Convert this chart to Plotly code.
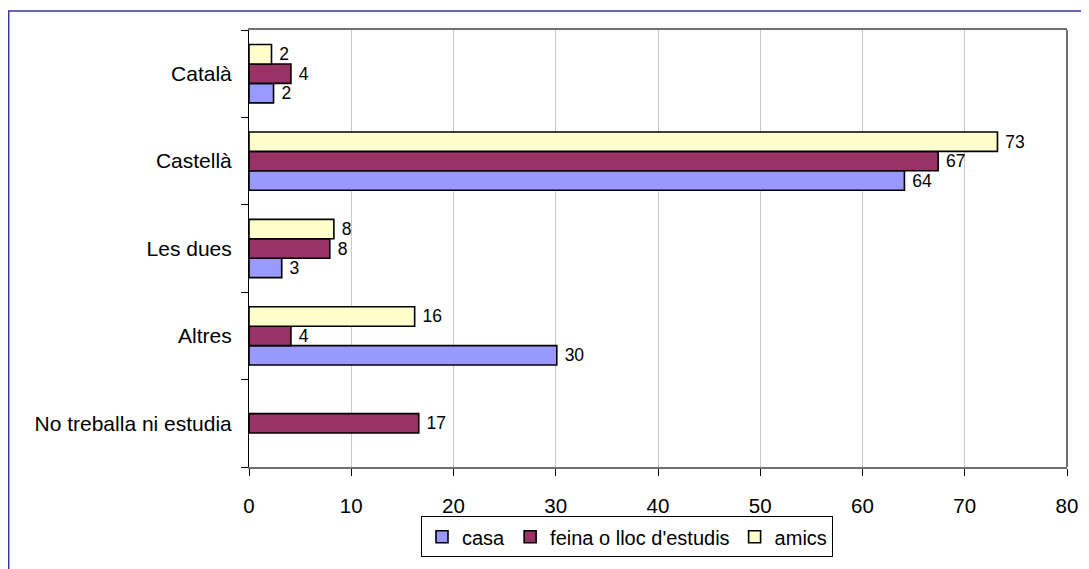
import plotly.graph_objects as go

categories = ["Català", "Castellà", "Les dues", "Altres", "No treballa ni estudia"]
casa = [2.4, 64.1, 3.2, 30.1, None]
feina = [4.1, 67.4, 7.9, 4.1, 16.6]
amics = [2.2, 73.2, 8.3, 16.2, None]
series_names = ["casa", "feina o lloc d'estudis", "amics"]
colors = ["#9999FF", "#993366", "#FFFFCC"]
x_ticks = [0, 10, 20, 30, 40, 50, 60, 70, 80]

FONT = "Arial, Liberation Sans, sans-serif"

fig = go.Figure()
for name, vals, col in zip(series_names, [casa, feina, amics], colors):
    fig.add_trace(go.Bar(
        y=categories, x=vals, name=name, orientation="h",
        marker=dict(color=col, line=dict(color="black", width=1.6)),
        text=[None if v is None else f" {round(v):d}" for v in vals],
        textposition="outside", constraintext="none", cliponaxis=False,
        textfont=dict(family=FONT, size=17.5, color="black"),
        hoverinfo="skip",
    ))

# page has an 8px body margin; figure coordinates are page coordinates minus 8
OFF = 8
W, H = 1089 - OFF, 569 - OFF
L, R, T, B = 249 - OFF, 22, 30 - OFF, 95
pw, ph = W - L - R, H - T - B

def px(xp):
    return (xp - OFF - L) / pw

def py(yp):
    return (H - B - (yp - OFF)) / ph

fig.update_layout(
    width=W, height=H,
    margin=dict(l=L, r=R, t=T, b=B),
    paper_bgcolor="white", plot_bgcolor="white",
    barmode="group", bargap=1/3, bargroupgap=0,
    font=dict(family=FONT, size=20, color="black"),
    showlegend=True,
    legend=dict(
        orientation="h", x=px(421), y=py(524), xanchor="left", yanchor="top",
        bordercolor="black", borderwidth=1, bgcolor="white",
        font=dict(family=FONT, size=20, color="black"),
        itemwidth=30, tracegroupgap=0,
    ),
    xaxis=dict(
        range=[0, 80], tickvals=x_ticks, ticktext=[str(v) for v in x_ticks],
        showgrid=True, gridcolor="#C8C8C8", gridwidth=1,
        showline=True, linecolor="#707070", linewidth=1.5, mirror=True,
        ticks="outside", ticklen=7, tickcolor="black", tickwidth=1,
        ticklabelstandoff=13, zeroline=False,
        tickfont=dict(family=FONT, size=20.5, color="black"),
    ),
    yaxis=dict(
        categoryorder="array", categoryarray=categories[::-1],
        showgrid=False, showline=True, linecolor="black", linewidth=1,
        ticks="outside", ticklen=7, tickcolor="black", tickson="boundaries",
        ticklabelstandoff=12,
        tickfont=dict(family=FONT, size=21, color="black"),
    ),
    shapes=[
        dict(type="line", xref="paper", yref="paper", x0=1, x1=1, y0=0, y1=1,
             line=dict(color="#707070", width=2)),
        dict(type="rect", xref="paper", yref="paper",
             x0=px(8.7), x1=px(1100), y0=py(600), y1=py(10.7),
             line=dict(color="#3535A8", width=1.5), fillcolor="rgba(0,0,0,0)"),
    ],
)

fig.write_html("out.html")
